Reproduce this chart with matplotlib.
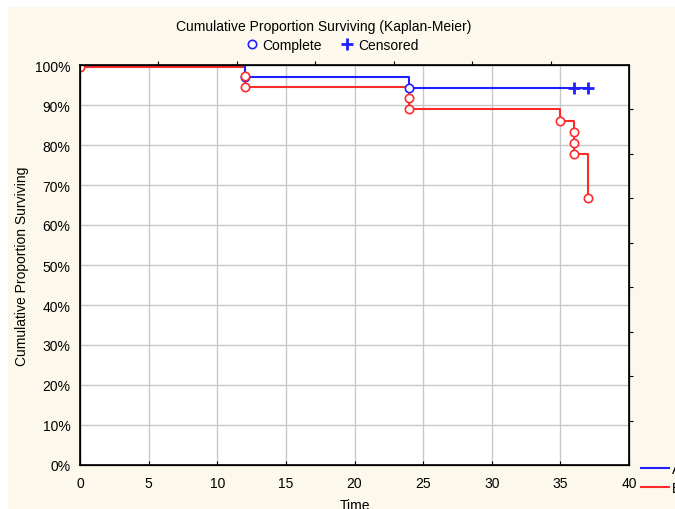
import matplotlib
matplotlib.use('Agg')
import matplotlib.pyplot as plt
import matplotlib.patches as mpatches
from matplotlib.lines import Line2D
import matplotlib.ticker as mticker

# Kaplan-Meier curves (survival in %)
a_times = [0, 12, 24, 37]
a_surv = [100, 97.1, 94.3, 94.3]
a_event_t = [0, 12, 24]
a_event_s = [100, 97.1, 94.3]
a_cens_t = [36, 37]
a_cens_s = [94.3, 94.3]

b_times = [0, 12, 24, 35, 36, 37]
b_surv = [99.5, 94.4, 88.9, 86.1, 77.8, 66.7]
b_event_t = [0, 12, 12, 24, 24, 35, 36, 36, 36, 37]
b_event_s = [99.5, 97.2, 94.4, 91.7, 88.9, 86.1, 83.3, 80.6, 77.8, 66.7]

x_ticks = [0, 5, 10, 15, 20, 25, 30, 35, 40]
y_ticks = [0, 10, 20, 30, 40, 50, 60, 70, 80, 90, 100]

plt.rcParams['font.family'] = ['Liberation Sans', 'DejaVu Sans']
plt.rcParams['font.size'] = 10

blue = '#1f1fff'
red = '#ff2b2b'
cream = '#fdf8ec'

fig = plt.figure(figsize=(6.75, 5.1), dpi=100)
fig.patch.set_facecolor('white')
# cream panel, white margin at top and left
fig.patches.append(mpatches.Rectangle((8/675, 0), 1, 1 - 8/510, transform=fig.transFigure,
                                      facecolor=cream, edgecolor='none', zorder=-10))

ax = fig.add_axes([80/675, 1 - 466/510, 549/675, 400/510])
ax.set_facecolor('white')

ax.step(b_times, b_surv, where='post', color=red, lw=1.5, zorder=3)
ax.step(a_times, a_surv, where='post', color=blue, lw=1.5, zorder=4)
ax.plot(a_event_t, a_event_s, 'o', ms=6, mfc='white', mec=blue, mew=1.2, zorder=5)
ax.plot(b_event_t, b_event_s, 'o', ms=6, mfc='white', mec=red, mew=1.2, zorder=6)
ax.plot(a_cens_t, a_cens_s, '+', ms=8, mec=blue, mew=2, zorder=7)

ax.set_xlim(0, 40)
ax.set_ylim(0, 100)
ax.set_xticks(x_ticks)
ax.set_yticks(y_ticks)
ax.yaxis.set_major_formatter(mticker.FuncFormatter(lambda v, p: f'{v:.0f}%'))
ax.grid(True, color='#c8c8c8', lw=1)
ax.set_axisbelow(True)
ax.tick_params(axis='x', direction='in', length=3, pad=8, colors='black')
ax.tick_params(axis='y', length=0, pad=7)
for s in ax.spines.values():
    s.set_linewidth(1.2)

ax.set_xlabel('Time', labelpad=6)
ax.set_ylabel('Cumulative Proportion Surviving', labelpad=4.5)

# the extra outer ticks on top and right
top = ax.twiny()
top.set_xlim(0, 7)
top.set_xticks(range(1, 7))
top.set_xticklabels([])
top.tick_params(axis='x', direction='out', length=3)
right = ax.twinx()
right.set_ylim(0, 9)
right.set_yticks(range(1, 9))
right.set_yticklabels([])
right.tick_params(axis='y', direction='out', length=3)

fig.text(324/675, 1 - 27/510, 'Cumulative Proportion Surviving (Kaplan-Meier)',
         ha='center', va='center')

marks = [Line2D([], [], ls='none', marker='o', ms=6, mfc='white', mec=blue, mew=1.2),
         Line2D([], [], ls='none', marker='+', ms=8, mec=blue, mew=2)]
fig.legend(marks, ['Complete', 'Censored'], ncol=2, frameon=False, loc='center',
           bbox_to_anchor=(331/675, 1 - 46/510), handletextpad=0.2, columnspacing=1.2,
           borderpad=0, handlelength=1.2)

groups = [Line2D([], [], color=blue, lw=1.5), Line2D([], [], color=red, lw=1.5)]
fig.legend(groups, ['A', 'B'], frameon=False, loc='upper left',
           bbox_to_anchor=(641/675, 1 - 463/510), borderpad=0, borderaxespad=0,
           handlelength=2, handletextpad=0.2, labelspacing=0.37)

fig.savefig('out.png', dpi=100, facecolor=fig.get_facecolor())
